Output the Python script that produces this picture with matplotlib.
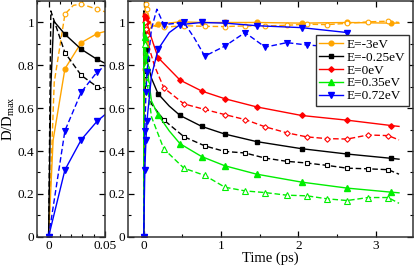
import matplotlib
matplotlib.use("Agg")
from matplotlib import pyplot as plt
from matplotlib.ticker import MultipleLocator, FuncFormatter

plt.rcParams['font.family'] = ['Liberation Serif', 'DejaVu Serif']
plt.rcParams['mathtext.fontset'] = 'custom'
plt.rcParams['mathtext.rm'] = 'Liberation Serif'

# marker times (solid curves / dashed curves)
mark_solid = [0, 0.0145, 0.029, 0.043, 0.186, 0.47, 0.75, 1.05, 1.46, 2.04, 2.63, 3.2]
mark_dash = [0, 0.0145, 0.029, 0.043, 0.26, 0.52, 0.79, 1.05, 1.31, 1.57, 1.85, 2.11, 2.37, 2.63, 2.9, 3.16]

# E=-3eV
t_or_s = [0, 0.004, 0.0145, 0.029, 0.043, 0.05, 0.1, 0.186, 0.47, 0.75, 1.05, 1.46, 2.04, 2.63, 3.2, 3.3]
d_or_s = [0, 0.45, 0.784, 0.906, 0.948, 0.958, 0.98, 0.992, 1.003, 1.0, 1.0, 1.0, 0.997, 1.0, 0.997, 0.997]
t_or_d = [0, 0.005, 0.0145, 0.022, 0.029, 0.043, 0.05, 0.1, 0.26, 0.52, 0.79, 1.05, 1.31, 1.57, 1.85, 2.11, 2.37, 2.63, 2.9, 3.16, 3.3]
d_or_d = [0, 0.72, 1.039, 1.08, 1.086, 1.062, 1.05, 0.984, 0.978, 0.985, 0.982, 0.981, 0.984, 0.984, 0.987, 0.992, 0.99, 0.996, 1.003, 1.006, 1.0]

# E=-0.25eV
t_bk_s = [0, 0.002, 0.0045, 0.0145, 0.029, 0.043, 0.05, 0.1, 0.186, 0.33, 0.47, 0.75, 1.05, 1.46, 2.04, 2.63, 3.2, 3.3]
d_bk_s = [0, 0.7, 1.007, 0.945, 0.875, 0.828, 0.81, 0.74, 0.667, 0.61, 0.566, 0.515, 0.479, 0.444, 0.411, 0.386, 0.366, 0.362]
t_bk_d = [0, 0.002, 0.0145, 0.029, 0.043, 0.05, 0.1, 0.26, 0.52, 0.79, 1.05, 1.31, 1.57, 1.85, 2.11, 2.37, 2.63, 2.9, 3.16, 3.3]
d_bk_d = [0, 1.054, 0.859, 0.753, 0.70, 0.684, 0.62, 0.545, 0.467, 0.424, 0.398, 0.391, 0.367, 0.352, 0.344, 0.333, 0.320, 0.317, 0.313, 0.292]

# E=0eV
t_rd_s = [0, 0.003, 0.0145, 0.029, 0.043, 0.077, 0.12, 0.186, 0.47, 0.75, 1.05, 1.46, 2.04, 2.63, 3.2, 3.3]
d_rd_s = [0, 1.04, 1.03, 1.02, 1.0, 0.953, 0.906, 0.836, 0.731, 0.680, 0.644, 0.606, 0.566, 0.544, 0.519, 0.515]
t_rd_d = [0, 0.003, 0.0145, 0.029, 0.043, 0.08, 0.14, 0.26, 0.52, 0.79, 1.05, 1.31, 1.57, 1.85, 2.11, 2.37, 2.63, 2.9, 3.16, 3.3]
d_rd_d = [0, 1.03, 1.0, 0.97, 0.94, 0.87, 0.797, 0.695, 0.620, 0.594, 0.570, 0.547, 0.513, 0.485, 0.466, 0.458, 0.456, 0.475, 0.472, 0.452]

# E=0.35eV
t_gr_s = [0, 0.003, 0.0145, 0.029, 0.043, 0.1, 0.186, 0.33, 0.47, 0.75, 1.05, 1.46, 2.04, 2.63, 3.2, 3.3]
d_gr_s = [0, 1.0, 0.93, 0.85, 0.79, 0.634, 0.569, 0.494, 0.434, 0.374, 0.331, 0.292, 0.255, 0.227, 0.208, 0.205]
t_gr_d = [0, 0.003, 0.0145, 0.029, 0.043, 0.1, 0.26, 0.52, 0.79, 1.05, 1.31, 1.57, 1.85, 2.11, 2.37, 2.63, 2.9, 3.16, 3.3]
d_gr_d = [0, 1.0, 0.9, 0.8, 0.72, 0.56, 0.410, 0.32, 0.286, 0.231, 0.214, 0.206, 0.194, 0.191, 0.177, 0.169, 0.183, 0.183, 0.156]

# E=0.72eV
t_bl_s = [0, 0.0145, 0.029, 0.043, 0.05, 0.1, 0.186, 0.33, 0.47, 0.75, 1.05, 1.46, 2.04, 2.63]
d_bl_s = [0, 0.312, 0.453, 0.539, 0.570, 0.75, 0.875, 0.953, 0.99, 1.0, 0.997, 0.985, 0.976, 0.953]
t_bl_d = [0, 0.0145, 0.029, 0.043, 0.05, 0.1, 0.17, 0.26, 0.52, 0.65, 0.79, 1.05, 1.31, 1.57, 1.85, 2.11, 2.3]
d_bl_d = [0, 0.495, 0.675, 0.769, 0.797, 0.97, 1.062, 0.99, 1.0, 0.93, 0.843, 0.89, 0.953, 0.885, 0.906, 0.895, 0.89]

labels = ["E=-3eV", "E=-0.25eV", "E=0eV", "E=0.35eV", "E=0.72eV"]
colors = ["#ffa500", "#000000", "#ff0000", "#00ee00", "#0000ff"]
markers = ["o", "s", "D", "^", "v"]
msizes = [3.4, 3.2, 2.8, 3.8, 3.8]

solid = [(t_or_s, d_or_s), (t_bk_s, d_bk_s), (t_rd_s, d_rd_s), (t_gr_s, d_gr_s), (t_bl_s, d_bl_s)]
dashed = [(t_or_d, d_or_d), (t_bk_d, d_bk_d), (t_rd_d, d_rd_d), (t_gr_d, d_gr_d), (t_bl_d, d_bl_d)]
in_left = [True, True, False, False, True]


def marks(t, mt):
    return [i for i, x in enumerate(t) if x in mt]


fig = plt.figure(figsize=(4.15, 2.66), dpi=100)
axL = fig.add_axes([0.0899, 0.110, 0.163, 0.886])
axR = fig.add_axes([0.309, 0.110, 0.686, 0.886])

for ax, left in ((axL, True), (axR, False)):
    for i in range(5):
        if left and not in_left[i]:
            continue
        t, d = solid[i]
        ax.plot(t, d, color=colors[i], lw=1.0, marker=markers[i], ms=msizes[i],
                markevery=marks(t, mark_solid), mfc=colors[i], mec=colors[i],
                label=labels[i])
        t, d = dashed[i]
        face = colors[i] if i == 4 else "white"
        ax.plot(t, d, color=colors[i], lw=1.0, ls=(0, (4, 2)), marker=markers[i], ms=msizes[i],
                markevery=marks(t, mark_dash), mfc=face, mec=colors[i], mew=0.8)

fmt = FuncFormatter(lambda v, p: "%g" % round(v, 3))
for ax in (axL, axR):
    ax.set_ylim(0, 1.1)
    ax.yaxis.set_major_locator(MultipleLocator(0.2))
    ax.yaxis.set_minor_locator(MultipleLocator(0.1))
    ax.yaxis.set_major_formatter(fmt)
    ax.xaxis.set_major_formatter(fmt)
    ax.tick_params(which="both", direction="in", top=True, right=True, labelsize=9.5, pad=2)
    ax.tick_params(which="major", length=4, width=0.9)
    ax.tick_params(which="minor", length=2.5, width=0.8)
    for s in ax.spines.values():
        s.set_linewidth(1.1)
        s.set_color("#333333")

axL.set_xlim(-0.01, 0.05)
axL.xaxis.set_major_locator(MultipleLocator(0.05))
axL.xaxis.set_minor_locator(MultipleLocator(0.01))
axL.set_ylabel("D/D$_\\mathregular{max}$", fontsize=10.5, labelpad=1)

axR.set_xlim(-0.2, 3.48)
axR.xaxis.set_major_locator(MultipleLocator(1))
axR.xaxis.set_minor_locator(MultipleLocator(0.5))
axR.set_xlabel("Time (ps)", fontsize=10.5, labelpad=0)

leg = axR.legend(loc="upper right", bbox_to_anchor=(0.985, 0.855), fontsize=9.5,
                 frameon=True, fancybox=False, framealpha=1, edgecolor="#333333",
                 handlelength=1.8, handletextpad=0.3, labelspacing=0.05, borderpad=0.25,
                 borderaxespad=0)
leg.get_frame().set_linewidth(1.0)

fig.savefig("out.png", dpi=100)
